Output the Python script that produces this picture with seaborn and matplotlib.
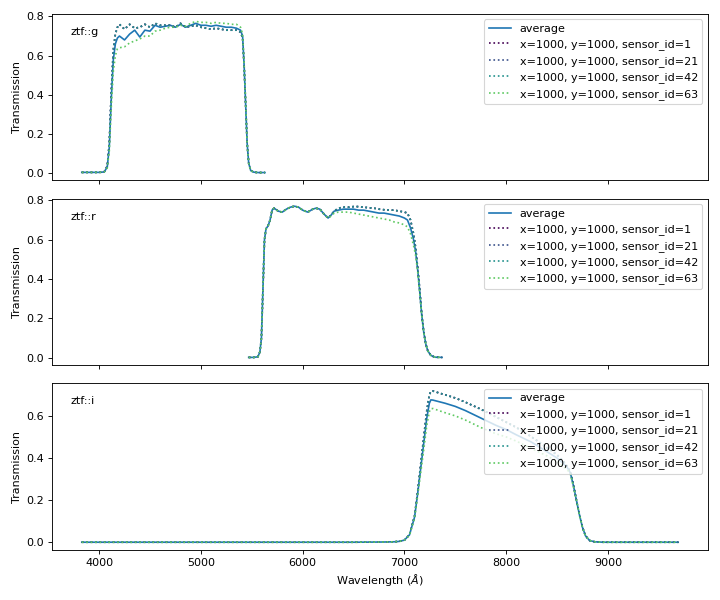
import numpy as np
import pandas as pd
import seaborn as sns
import matplotlib.pyplot as plt

# wavelength grids (Angstrom) and transmission
g_wl = [3830, 3900, 4000, 4050, 4080, 4100, 4120, 4140, 4160, 4180,
        4200, 4250, 4300, 4350, 4400, 4450, 4500, 4550, 4600, 4650,
        4700, 4750, 4800, 4850, 4900, 4950, 5000, 5050, 5100, 5150,
        5200, 5250, 5300, 5350, 5390, 5410, 5425, 5440, 5455, 5470,
        5490, 5520, 5560, 5630]
g_avg = [0.003, 0.003, 0.003, 0.005, 0.03, 0.13, 0.38, 0.58, 0.66, 0.69,
         0.70, 0.68, 0.71, 0.73, 0.695, 0.73, 0.725, 0.755, 0.745, 0.75,
         0.755, 0.745, 0.76, 0.745, 0.755, 0.765, 0.755, 0.755, 0.75, 0.755,
         0.75, 0.745, 0.745, 0.74, 0.73, 0.70, 0.55, 0.35, 0.15, 0.05,
         0.012, 0.004, 0.002, 0.002]
g_hi = [0.003, 0.003, 0.003, 0.005, 0.035, 0.15, 0.42, 0.63, 0.71, 0.745,
        0.76, 0.735, 0.76, 0.74, 0.745, 0.76, 0.745, 0.765, 0.755, 0.755,
        0.755, 0.745, 0.765, 0.745, 0.75, 0.755, 0.745, 0.74, 0.735, 0.74,
        0.735, 0.73, 0.73, 0.73, 0.72, 0.69, 0.55, 0.35, 0.15, 0.05,
        0.012, 0.004, 0.002, 0.002]
g_lo = [0.003, 0.003, 0.003, 0.005, 0.025, 0.11, 0.34, 0.52, 0.60, 0.635,
        0.64, 0.645, 0.665, 0.675, 0.685, 0.70, 0.70, 0.725, 0.73, 0.74,
        0.745, 0.745, 0.755, 0.75, 0.765, 0.775, 0.77, 0.77, 0.765, 0.77,
        0.765, 0.765, 0.76, 0.76, 0.745, 0.71, 0.56, 0.36, 0.15, 0.05,
        0.012, 0.004, 0.002, 0.002]

r_wl = [5470, 5520, 5560, 5580, 5595, 5610, 5625, 5640, 5660, 5680,
        5700, 5720, 5760, 5800, 5840, 5880, 5920, 5960, 6000, 6050,
        6100, 6130, 6170, 6210, 6250, 6280, 6310, 6350, 6400, 6450,
        6500, 6550, 6600, 6650, 6700, 6750, 6800, 6850, 6900, 6950,
        7000, 7030, 7060, 7090, 7110, 7130, 7150, 7170, 7190, 7210,
        7230, 7260, 7300, 7370]
r_avg = [0.002, 0.002, 0.005, 0.03, 0.10, 0.35, 0.60, 0.655, 0.67, 0.70,
         0.75, 0.76, 0.745, 0.74, 0.755, 0.765, 0.77, 0.765, 0.75, 0.74,
         0.755, 0.76, 0.755, 0.73, 0.71, 0.725, 0.745, 0.75, 0.755, 0.755,
         0.755, 0.75, 0.75, 0.745, 0.74, 0.735, 0.735, 0.73, 0.725, 0.72,
         0.71, 0.70, 0.66, 0.60, 0.54, 0.45, 0.34, 0.22, 0.13, 0.07,
         0.035, 0.012, 0.003, 0.002]
r_hi = [0.002, 0.002, 0.005, 0.03, 0.10, 0.35, 0.60, 0.655, 0.67, 0.70,
        0.75, 0.76, 0.745, 0.74, 0.755, 0.765, 0.77, 0.765, 0.75, 0.74,
        0.755, 0.76, 0.755, 0.73, 0.71, 0.725, 0.745, 0.76, 0.765, 0.765,
        0.768, 0.768, 0.765, 0.762, 0.76, 0.755, 0.752, 0.75, 0.75, 0.745,
        0.74, 0.735, 0.70, 0.63, 0.56, 0.46, 0.35, 0.22, 0.13, 0.07,
        0.035, 0.012, 0.003, 0.002]
r_lo = [0.002, 0.002, 0.005, 0.03, 0.10, 0.35, 0.60, 0.655, 0.67, 0.70,
        0.75, 0.76, 0.745, 0.74, 0.755, 0.765, 0.77, 0.765, 0.75, 0.74,
        0.755, 0.76, 0.755, 0.73, 0.71, 0.72, 0.735, 0.74, 0.74, 0.74,
        0.735, 0.73, 0.725, 0.72, 0.715, 0.71, 0.705, 0.70, 0.69, 0.685,
        0.675, 0.665, 0.63, 0.57, 0.52, 0.44, 0.33, 0.22, 0.13, 0.07,
        0.035, 0.012, 0.003, 0.002]

i_wl = [3830, 4500, 5000, 5500, 6000, 6500, 6800, 6900, 6950, 7000,
        7050, 7100, 7130, 7160, 7190, 7220, 7245, 7260, 7280, 7400,
        7500, 7600, 7750, 7900, 8000, 8100, 8250, 8400, 8500, 8560,
        8600, 8630, 8660, 8690, 8720, 8750, 8780, 8820, 8870, 8950,
        9100, 9300, 9500, 9690]
i_avg = [0.0, 0.0, 0.0, 0.0, 0.0, 0.0, 0.001, 0.002, 0.004, 0.01,
         0.035, 0.12, 0.23, 0.35, 0.47, 0.59, 0.66, 0.676, 0.675, 0.66,
         0.645, 0.625, 0.59, 0.555, 0.535, 0.51, 0.475, 0.43, 0.40, 0.375,
         0.355, 0.33, 0.27, 0.20, 0.13, 0.07, 0.03, 0.008, 0.002, 0.0,
         0.0, 0.0, 0.0, 0.0]
i_hi = [0.0, 0.0, 0.0, 0.0, 0.0, 0.0, 0.001, 0.002, 0.004, 0.01,
        0.036, 0.125, 0.24, 0.37, 0.50, 0.625, 0.70, 0.716, 0.718, 0.70,
        0.685, 0.665, 0.632, 0.595, 0.57, 0.545, 0.50, 0.45, 0.415, 0.385,
        0.36, 0.335, 0.275, 0.20, 0.13, 0.07, 0.03, 0.008, 0.002, 0.0,
        0.0, 0.0, 0.0, 0.0]
i_lo = [0.0, 0.0, 0.0, 0.0, 0.0, 0.0, 0.001, 0.002, 0.004, 0.01,
        0.033, 0.115, 0.22, 0.33, 0.44, 0.555, 0.62, 0.634, 0.635, 0.615,
        0.60, 0.58, 0.545, 0.515, 0.50, 0.48, 0.445, 0.41, 0.385, 0.36,
        0.345, 0.325, 0.265, 0.20, 0.13, 0.07, 0.03, 0.008, 0.002, 0.0,
        0.0, 0.0, 0.0, 0.0]

sensor_ids = [1, 21, 42, 63]
sensor_colors = ['#440154', '#3b528b', '#21918c', '#5ec962']

bands = [
    ('ztf::g', g_wl, g_avg, [g_hi, g_hi, g_hi, g_lo]),
    ('ztf::r', r_wl, r_avg, [r_hi, r_hi, r_hi, r_lo]),
    ('ztf::i', i_wl, i_avg, [i_hi, i_hi, i_hi, i_lo]),
]

fig, axes = plt.subplots(3, 1, figsize=(9, 7.5), dpi=80, sharex=True)

for ax, (name, wl, avg, sensors) in zip(axes, bands):
    sns.lineplot(x=wl, y=avg, ax=ax, color='#1f77b4', label='average', sort=False)
    for sid, col, vals in zip(sensor_ids, sensor_colors, sensors):
        sns.lineplot(x=wl, y=vals, ax=ax, color=col, linestyle=':', sort=False,
                     label=f'x=1000, y=1000, sensor_id={sid}')
    ax.annotate(name, xy=(0, 1), xycoords='axes fraction', xytext=(19, -18),
                textcoords='offset pixels', ha='left', va='center')
    ax.legend(loc='upper right')
    ax.set_ylabel('Transmission')

axes[-1].set_xlabel(r'Wavelength ($\AA$)')

plt.tight_layout()
plt.savefig('out.png')
